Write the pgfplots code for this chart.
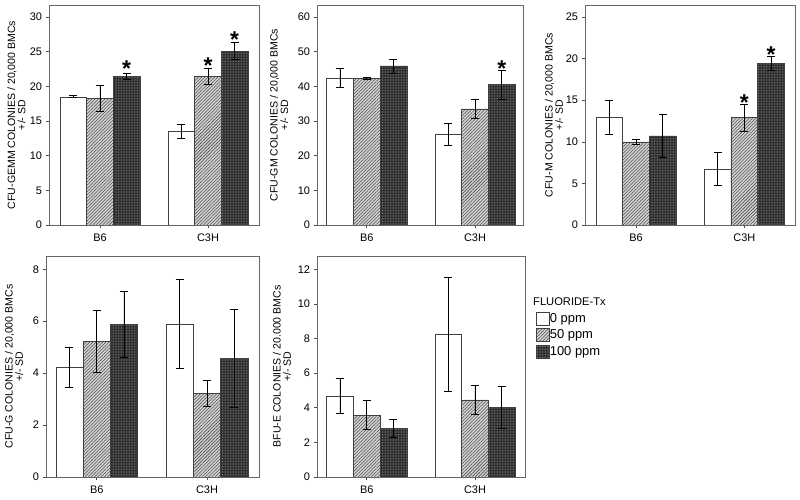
\documentclass[border=0pt]{standalone}
\usepackage{fontspec}
\setmainfont{Liberation Sans}
\usepackage{pgfplots}
\pgfplotsset{compat=1.18}
\usetikzlibrary{patterns.meta}
\pgfplotsset{
  panel/.style={
    scale only axis, anchor=south west, ymin=0,
    xtick={0,1}, xticklabels={B6,C3H},
    tick pos=left, tick align=outside, major tick length=3bp,
    tick style={black!70, line width=0.6bp},
    axis line style={black!60, line width=0.8bp},
    /pgf/number format/assume math mode=true,
    tick label style={font=\fontsize{11}{12}\selectfont},
    yticklabel style={xshift=-0.5bp},
    xticklabel style={yshift=-2.5bp},
    ylabel style={font=\fontsize{10.6}{10.3}\selectfont, align=center, anchor=center},
    error bars/error bar style={black, line width=0.8bp},
    error bars/error mark=-,
    error bars/error mark options={rotate=90, black, line width=0.8bp, mark size=4bp},
  },
  bw/.style={ybar, bar width=0.247, bar shift=0pt, line width=0.6bp, draw=black!75,
    error bars/y dir=both, error bars/y explicit},
  wbar/.style={bw, fill=white},
  hbar/.style={bw, fill=black!17, postaction={pattern color=black!70, pattern={Lines[angle=45,distance=2.3bp,line width=0.55bp]}}},
  dbar/.style={bw, fill=black!85, postaction={pattern color=black!45, pattern={Dots[distance=1.6bp,radius=0.45bp]}}},
  star/.style={only marks, mark=text, text mark={\fontsize{23}{23}\selectfont\bfseries\raisebox{-13bp}{*}}, text mark style={base}},
}
\begin{document}
\begin{tikzpicture}
\path[use as bounding box] (0,0) rectangle (800bp,500bp);
% Panel 1
\begin{axis}[panel, at={(49bp,275bp)}, width=210bp, height=220bp,
  xmin=-0.472, xmax=1.472, ymax=31.75, ytick={0,5,...,30},
  ylabel={CFU-GEMM COLONIES / 20,000 BMCs\\+/- SD},
  ylabel style={at={(axis description cs:-0.155,0.5)}}]
\addplot[wbar] coordinates {(-0.247,18.5) +- (0,0.15) (0.753,13.45) +- (0,1.0)};
\addplot[hbar] coordinates {(0,18.3) +- (0,1.9) (1,21.45) +- (0,1.15)};
\addplot[dbar] coordinates {(0.247,21.45) +- (0,0.45) (1.247,25.1) +- (0,1.25)};
\addplot[star] coordinates {(0.247,23.3) (1,23.7) (1.247,27.45)};
\end{axis}
% Panel 2
\begin{axis}[panel, at={(317bp,275bp)}, width=206bp, height=220bp,
  xmin=-0.459, xmax=1.443, ymax=63.5, ytick={0,10,...,60},
  ylabel={CFU-GM COLONIES / 20,000 BMCs\\+/- SD},
  ylabel style={at={(axis description cs:-0.184,0.5)}}]
\addplot[wbar] coordinates {(-0.247,42.4) +- (0,2.8) (0.753,26.2) +- (0,3.1)};
\addplot[hbar] coordinates {(0,42.3) +- (0,0.3) (1,33.5) +- (0,2.8)};
\addplot[dbar] coordinates {(0.247,45.9) +- (0,2.0) (1.247,40.5) +- (0,4.2)};
\addplot[star] coordinates {(1.247,46.7)};
\end{axis}
% Panel 3
\begin{axis}[panel, at={(585bp,275bp)}, width=210bp, height=220bp,
  xmin=-0.471, xmax=1.468, ymax=26.45, ytick={0,5,...,25},
  ylabel={CFU-M COLONIES / 20,000 BMCs\\+/- SD},
  ylabel style={at={(axis description cs:-0.148,0.5)}}]
\addplot[wbar] coordinates {(-0.247,12.95) +- (0,2.05) (0.753,6.7) +- (0,1.97)};
\addplot[hbar] coordinates {(0,10.0) +- (0,0.3) (1,12.9) +- (0,1.6)};
\addplot[dbar] coordinates {(0.247,10.7) +- (0,2.6) (1.247,19.4) +- (0,0.83)};
\addplot[star] coordinates {(1,15.35) (1.247,21.06)};
\end{axis}
% Panel 4
\begin{axis}[panel, at={(46bp,23bp)}, width=213bp, height=221bp,
  xmin=-0.46, xmax=1.471, ymax=8.51, ytick={0,2,...,8},
  ylabel={CFU-G COLONIES / 20,000 BMCs\\+/- SD},
  ylabel style={at={(axis description cs:-0.150,0.5)}}]
\addplot[wbar] coordinates {(-0.247,4.22) +- (0,0.77) (0.753,5.89) +- (0,1.71)};
\addplot[hbar] coordinates {(0,5.22) +- (0,1.18) (1,3.23) +- (0,0.5)};
\addplot[dbar] coordinates {(0.247,5.89) +- (0,1.27) (1.247,4.57) +- (0,1.88)};
\end{axis}
% Panel 5
\begin{axis}[panel, at={(317bp,23bp)}, width=208bp, height=221bp,
  xmin=-0.459, xmax=1.462, ymax=12.77, ytick={0,2,...,12},
  ylabel={BFU-E COLONIES / 20.000 BMCs\\+/- SD},
  ylabel style={at={(axis description cs:-0.168,0.5)}},
  legend style={draw=none, fill=none, at={(axis description cs:1.053,0.749)}, anchor=north west,
    inner sep=0pt, row sep=3.1bp, font=\fontsize{13}{13}\selectfont,
    nodes={inner sep=0pt, outer sep=0pt}},
  legend cell align=left,
  legend image code/.code={\draw[#1] (0bp,-6.5bp) rectangle (13bp,6.5bp);}]
\addplot[wbar] coordinates {(-0.247,4.68) +- (0,1.0) (0.753,8.24) +- (0,3.29)};
\addplot[hbar] coordinates {(0,3.57) +- (0,0.84) (1,4.46) +- (0,0.82)};
\addplot[dbar] coordinates {(0.247,2.8) +- (0,0.51) (1.247,4.01) +- (0,1.21)};
\legend{0 ppm,50 ppm,100 ppm}
\end{axis}
\node[anchor=west, inner sep=0pt, font=\fontsize{11.2}{11.2}\selectfont] at (533bp,198.3bp) {FLUORIDE-Tx};
\end{tikzpicture}
\end{document}
